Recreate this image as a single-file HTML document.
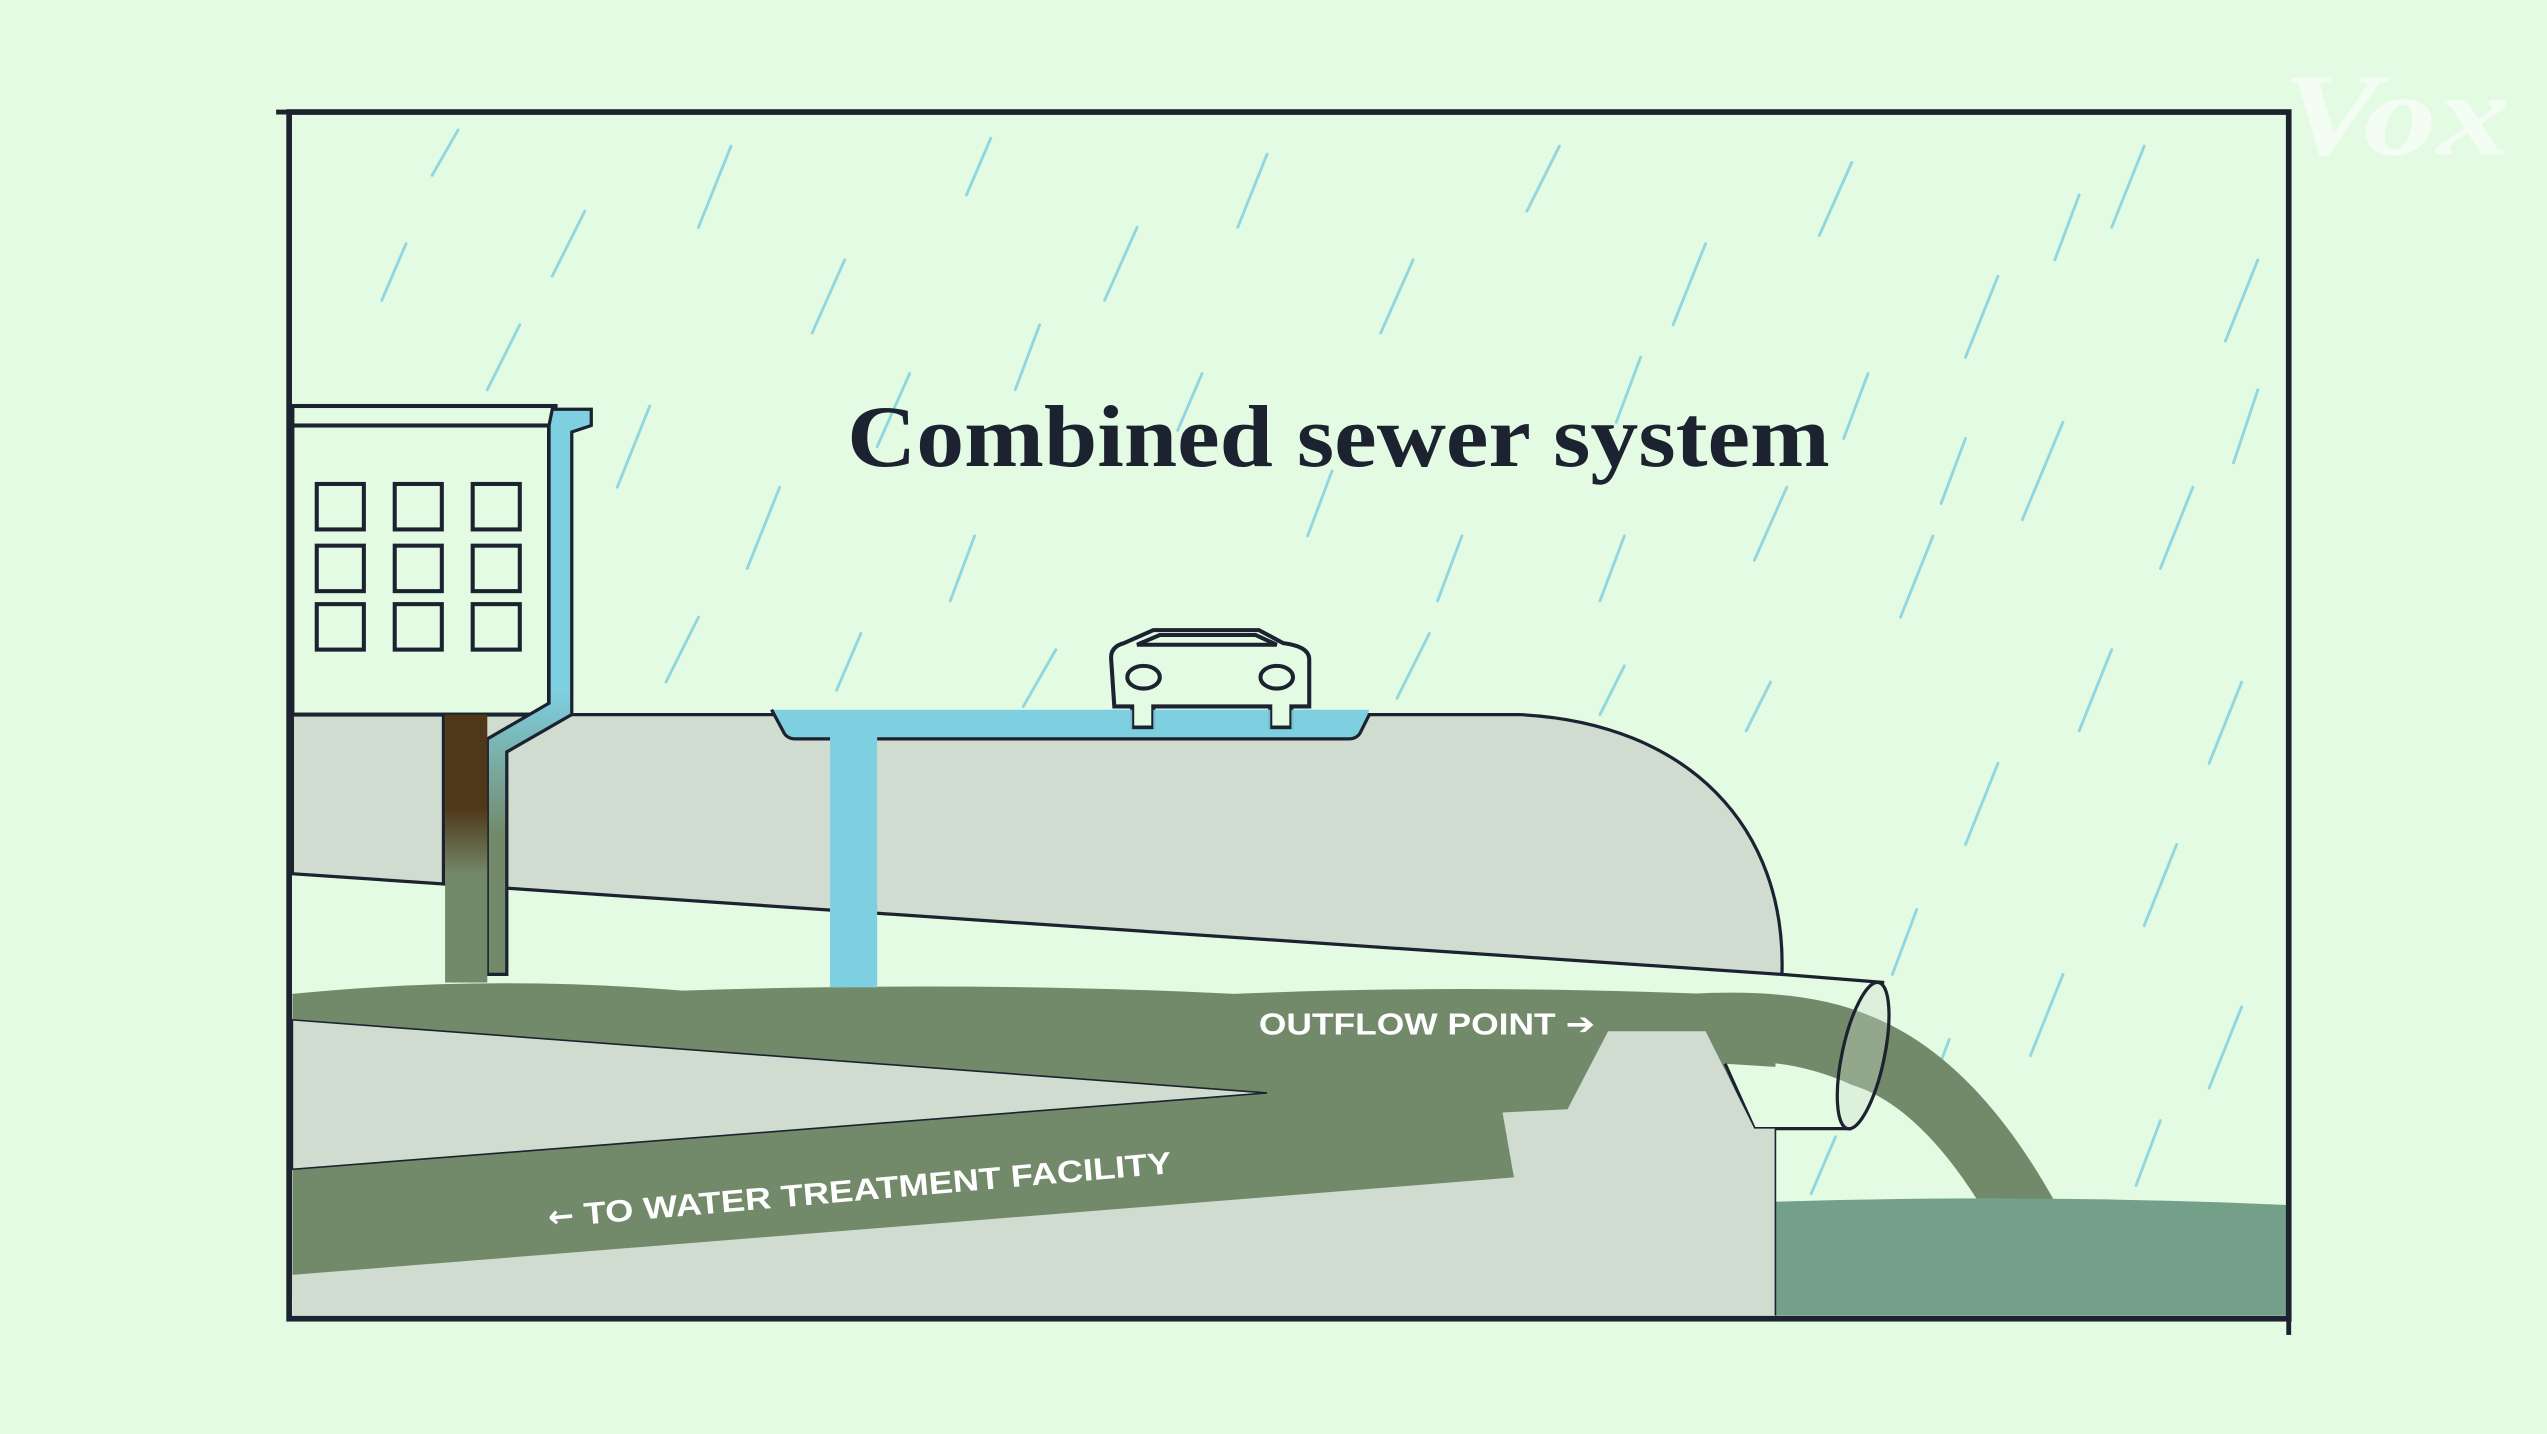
<!DOCTYPE html>
<html><head><meta charset="utf-8"><style>
html,body{margin:0;padding:0;background:#e4fbe3;}
svg{display:block;}
</style></head><body>
<svg width="2547" height="1434" viewBox="0 0 1568 883" preserveAspectRatio="none" xmlns="http://www.w3.org/2000/svg">
<defs>
<linearGradient id="brown" x1="0" y1="0" x2="0" y2="1">
<stop offset="0" stop-color="#4f3818"/><stop offset="0.35" stop-color="#4f3818"/><stop offset="0.6" stop-color="#738a6a"/><stop offset="1" stop-color="#738a6a"/>
</linearGradient>
<linearGradient id="blueg" x1="0" y1="0" x2="0" y2="1">
<stop offset="0" stop-color="#7ecfe0"/><stop offset="0.5" stop-color="#7ecfe0"/><stop offset="0.75" stop-color="#738a6a"/><stop offset="1" stop-color="#738a6a"/>
</linearGradient>
</defs>
<rect width="1568" height="883" fill="#e4fbe3"/>
<g stroke="#7ecfe0" stroke-width="1.8" stroke-linecap="round" opacity="0.8">
<line x1="282" y1="80" x2="266" y2="108"/><line x1="360" y1="130" x2="340" y2="170"/><line x1="450" y1="90" x2="430" y2="140"/>
<line x1="520" y1="160" x2="500" y2="205"/><line x1="610" y1="85" x2="595" y2="120"/><line x1="700" y1="140" x2="680" y2="185"/>
<line x1="780" y1="95" x2="762" y2="140"/><line x1="870" y1="160" x2="850" y2="205"/><line x1="960" y1="90" x2="940" y2="130"/>
<line x1="1050" y1="150" x2="1030" y2="200"/><line x1="1140" y1="100" x2="1120" y2="145"/><line x1="1230" y1="170" x2="1210" y2="220"/>
<line x1="1320" y1="90" x2="1300" y2="140"/><line x1="1390" y1="160" x2="1370" y2="210"/><line x1="1270" y1="260" x2="1245" y2="320"/>
<line x1="1350" y1="300" x2="1330" y2="350"/><line x1="1190" y1="330" x2="1170" y2="380"/><line x1="1100" y1="300" x2="1080" y2="345"/>
<line x1="1000" y1="330" x2="985" y2="370"/><line x1="900" y1="330" x2="885" y2="370"/><line x1="600" y1="330" x2="585" y2="370"/>
<line x1="480" y1="300" x2="460" y2="350"/><line x1="400" y1="250" x2="380" y2="300"/><line x1="430" y1="380" x2="410" y2="420"/>
<line x1="530" y1="390" x2="515" y2="425"/><line x1="650" y1="400" x2="630" y2="435"/><line x1="880" y1="390" x2="860" y2="430"/>
<line x1="1000" y1="410" x2="985" y2="440"/><line x1="1300" y1="400" x2="1280" y2="450"/><line x1="1380" y1="420" x2="1360" y2="470"/>
<line x1="1230" y1="470" x2="1210" y2="520"/><line x1="1340" y1="520" x2="1320" y2="570"/><line x1="1180" y1="560" x2="1165" y2="600"/>
<line x1="1270" y1="600" x2="1250" y2="650"/><line x1="1380" y1="620" x2="1360" y2="670"/><line x1="1200" y1="640" x2="1185" y2="680"/>
<line x1="1130" y1="700" x2="1115" y2="735"/><line x1="1330" y1="690" x2="1315" y2="730"/><line x1="320" y1="200" x2="300" y2="240"/>
<line x1="560" y1="230" x2="540" y2="275"/><line x1="740" y1="230" x2="725" y2="265"/><line x1="1150" y1="230" x2="1135" y2="270"/>
<line x1="1390" y1="240" x2="1375" y2="285"/><line x1="1090" y1="420" x2="1075" y2="450"/>
<line x1="250" y1="150" x2="235" y2="185"/><line x1="640" y1="200" x2="625" y2="240"/><line x1="1010" y1="220" x2="995" y2="260"/>
<line x1="1280" y1="120" x2="1265" y2="160"/><line x1="1210" y1="270" x2="1195" y2="310"/><line x1="820" y1="290" x2="805" y2="330"/>
</g>
<path d="M180,440 L935,440 C1040,445 1100,510 1097,600 L180,538 Z" fill="#cfdccf" stroke="#1c2230" stroke-width="2"/>
<path d="M180,612 Q300,600 420,610 Q600,604 760,612 Q900,606 1050,612 L1093,620 L1093,800 L180,800 Z" fill="#738a6a"/>
<path d="M1062,655 L1080,695 L1140,695 L1140,660 Z" fill="#e4fbe3"/>
<path d="M1040,612 Q1110,608 1150,625 Q1215,650 1265,740 L1218,740 Q1180,680 1140,668 Q1100,650 1060,655 Z" fill="#738a6a"/>
<path d="M1093,740 Q1250,735 1408,742 L1408,810 L1093,810 Z" fill="#74a08a"/>
<path d="M1062,655 L1080,695 L1140,695" fill="none" stroke="#1c2230" stroke-width="2"/>
<line x1="1097" y1="600" x2="1160" y2="605" stroke="#1c2230" stroke-width="2"/>
<ellipse cx="1147" cy="650" rx="13" ry="46" transform="rotate(12 1147 650)" fill="#cfdccf" fill-opacity="0.35" stroke="#1c2230" stroke-width="2"/>
<path d="M180,628 L780,673 L180,720 Z" fill="#cfdccf" stroke="#1c2230" stroke-width="1"/>
<path d="M180,785 L932,725 L925,685 L965,683 L990,635 L1050,635 L1080,695 L1093,695 L1093,810 L180,810 Z" fill="#cfdccf"/>
<line x1="1093" y1="695" x2="1093" y2="810" stroke="#1c2230" stroke-width="1"/>
<rect x="180" y="262" width="158" height="178" fill="#e4fbe3" stroke="#1c2230" stroke-width="2.5"/>
<rect x="180" y="250" width="162" height="12" fill="#e4fbe3" stroke="#1c2230" stroke-width="2.5"/>
<g fill="none" stroke="#1c2230" stroke-width="2.5">
<rect x="195" y="298" width="29" height="28"/><rect x="243" y="298" width="29" height="28"/><rect x="291" y="298" width="29" height="28"/>
<rect x="195" y="336" width="29" height="28"/><rect x="243" y="336" width="29" height="28"/><rect x="291" y="336" width="29" height="28"/>
<rect x="195" y="372" width="29" height="28"/><rect x="243" y="372" width="29" height="28"/><rect x="291" y="372" width="29" height="28"/>
</g>
<path d="M340,252 L364,252 L364,262 L352,266 L352,440 L312,463 L312,600 L300,600 L300,455 L338,433 L338,262 Z" fill="url(#blueg)" stroke="#1c2230" stroke-width="2"/>
<rect x="274" y="440" width="26" height="165" fill="url(#brown)"/>
<line x1="273" y1="440" x2="273" y2="545" stroke="#1c2230" stroke-width="2"/>
<path d="M475,437 L843,437 L838,450 Q836,455 830,455 L540,455 L540,608 L511,608 L511,455 L490,455 Q484,455 482,450 Z" fill="#7ecfe0"/>
<path d="M475,437 L482,450 Q484,455 490,455 L511,455 M540,455 L830,455 Q836,455 838,450 L843,440" fill="none" stroke="#1c2230" stroke-width="2"/>
<g fill="#e4fbe3" stroke="#1c2230" stroke-width="2.5">
<path d="M697,448 L697,435 L686,435 L684,405 Q684,398 692,396 L710,388 L775,388 L790,396 Q806,398 806,406 L806,435 L795,435 L795,448 L782,448 L782,435 L710,435 L710,448 Z"/>
<path d="M700,397 L714,391 L773,391 L786,397 Z" fill="none"/>
<ellipse cx="704" cy="417" rx="10" ry="7"/><ellipse cx="786" cy="417" rx="10" ry="7"/>
</g>
<path d="M682,437 L697,437 L697,449 L710,449 L710,437 L782,437 L782,449 L795,449 L795,437 L810,437 L810,452 L682,452 Z" fill="#7ecfe0" opacity="0.9"/>
<rect x="178" y="69" width="1231" height="743" fill="none" stroke="#1c2230" stroke-width="3.5"/>
<line x1="170" y1="69" x2="178" y2="69" stroke="#1c2230" stroke-width="3"/>
<line x1="1409" y1="812" x2="1409" y2="822" stroke="#1c2230" stroke-width="3"/>
<text x="824" y="287" text-anchor="middle" font-family="Liberation Serif, serif" font-weight="bold" font-size="54" fill="#1c2230" textLength="605" lengthAdjust="spacingAndGlyphs">Combined sewer system</text>
<text x="775" y="637" font-family="Liberation Sans, DejaVu Sans, sans-serif" font-weight="bold" font-size="19" fill="#ffffff" textLength="207" lengthAdjust="spacingAndGlyphs">OUTFLOW POINT ➔</text>
<text x="338" y="756" transform="rotate(-5 338 756)" font-family="DejaVu Sans, sans-serif" font-weight="bold" font-size="19" fill="#ffffff">←</text>
<text x="360" y="754" transform="rotate(-5 360 754)" font-family="Liberation Sans, sans-serif" font-weight="bold" font-size="19" fill="#ffffff" textLength="363" lengthAdjust="spacingAndGlyphs">TO WATER TREATMENT FACILITY</text>
<text x="1405" y="95" font-family="Liberation Serif, serif" font-weight="bold" font-style="italic" font-size="72" fill="#ffffff" fill-opacity="0.6" textLength="140" lengthAdjust="spacingAndGlyphs">Vox</text>
</svg>
</body></html>
